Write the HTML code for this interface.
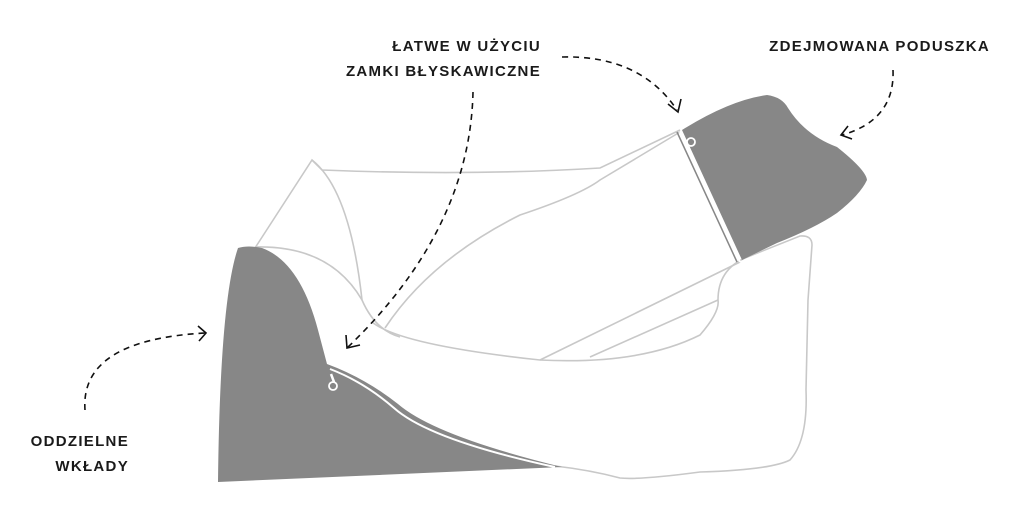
<!DOCTYPE html>
<html><head><meta charset="utf-8"><style>
html,body{margin:0;padding:0;background:#fff;width:1024px;height:508px;overflow:hidden}
svg{display:block}
text{font-family:"Liberation Sans","DejaVu Sans",sans-serif;font-size:15px;font-weight:bold;letter-spacing:1.3px;fill:#1a1a1a}
</style></head><body>
<svg width="1024" height="508" viewBox="0 0 1024 508" xmlns="http://www.w3.org/2000/svg">
<g fill="none" stroke="#c8c8c8" stroke-width="1.6">
  <path d="M255 248 L312 160 L322 170 Q470 176 600 168 L680 130"/>
  <path d="M312 160 Q350 190 362 300"/>
  <path d="M255 247 Q330 245 362 300 Q375 330 400 337"/>
  <path d="M385 328 Q430 260 520 215 Q580 195 600 180 L680 132"/>
  <path d="M372 322 Q400 345 540 360 Q640 365 700 335 Q720 312 718 300 Q718 270 745 258 L800 236 Q812 235 812 245 L808 300 L806 390 Q808 440 790 460 Q770 470 700 472 Q640 480 620 478 Q590 470 555 466"/>
  <path d="M540 360 L740 262"/>
  <path d="M590 357 L718 300"/>
</g>
<path d="M238 248 Q248 245 262 248 Q300 262 318 330 L327 364 Q365 378 398 404 Q435 436 562 467 L218 482 Q220 300 238 248 Z" fill="#878787"/>
<path d="M330 369 Q364 382 394 408 Q430 440 555 467" fill="none" stroke="#fff" stroke-width="2"/>
<circle cx="333" cy="386" r="4" fill="none" stroke="#fff" stroke-width="1.8"/>
<path d="M331 374 L334 382" stroke="#fff" stroke-width="2.5"/>
<path d="M682 130 Q730 100 767 95 Q782 97 788 108 Q805 135 837 147 Q866 170 867 180 Q860 195 837 213 Q815 228 777 243 L742 260 Z" fill="#878787"/>
<path d="M680 132 L740 262" stroke="#fff" stroke-width="2"/>
<path d="M677 132 L737 262" stroke="#878787" stroke-width="1.5"/>
<circle cx="691" cy="142" r="4" fill="none" stroke="#fff" stroke-width="1.8"/>
<g fill="none" stroke="#111" stroke-width="1.6" stroke-dasharray="6,5">
  <path d="M562 57 Q640 55 677 110"/>
  <path d="M473 92 Q470 230 347 348"/>
  <path d="M893 70 Q895 120 842 135"/>
  <path d="M85 410 Q80 340 205 333"/>
</g>
<g fill="none" stroke="#111" stroke-width="1.6">
  <path d="M668 104 L678 112 L681 99"/>
  <path d="M346 335 L347 348 L360 345"/>
  <path d="M848 126 L841 135 L852 139"/>
  <path d="M198 326 L206 333 L199 341"/>
</g>
<text x="541" y="51" text-anchor="end">ŁATWE W UŻYCIU</text>
<text x="541" y="76" text-anchor="end">ZAMKI BŁYSKAWICZNE</text>
<text x="990" y="51" text-anchor="end">ZDEJMOWANA PODUSZKA</text>
<text x="129" y="446" text-anchor="end">ODDZIELNE</text>
<text x="129" y="471" text-anchor="end">WKŁADY</text>
</svg>
</body></html>
